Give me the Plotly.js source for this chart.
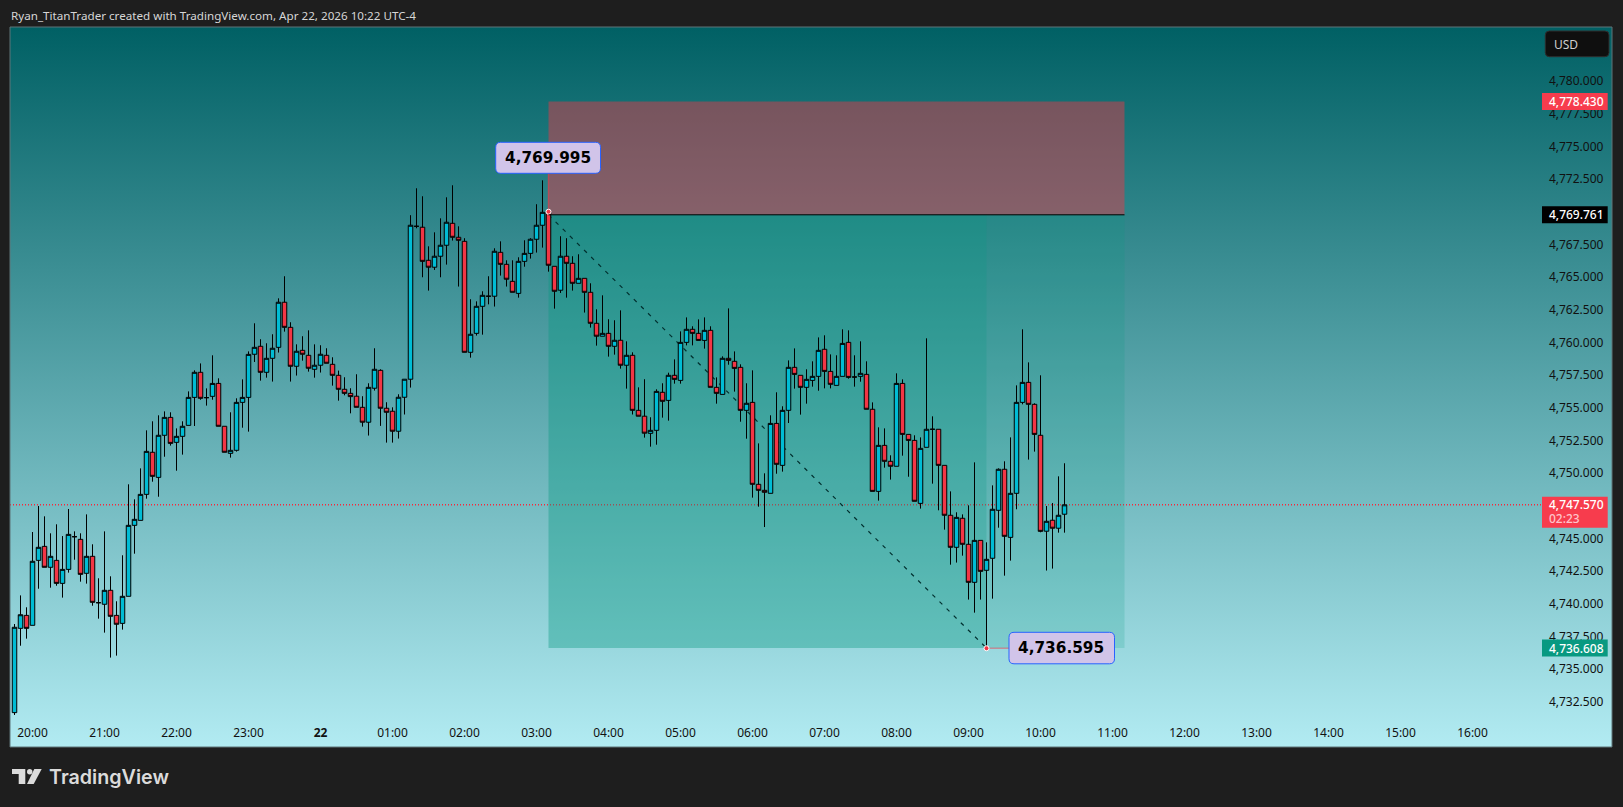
<!DOCTYPE html>
<html>
<head>
<meta charset="utf-8">
<script src="https://cdn.plot.ly/plotly-3.0.1.min.js"></script>
<style>
html,body{margin:0;padding:0;background:#1e1e1e;width:1623px;height:807px;overflow:hidden}
#pane{position:absolute;left:10px;top:27px;width:1602px;height:720px;background:linear-gradient(to bottom,#006064 0%,#b2ebf2 100%)}
#chart{position:absolute;left:0;top:0;width:1623px;height:807px}
</style>
</head>
<body>
<div id="pane"></div>
<div id="chart"></div>
<script>
const opens=[4731.67,4738.12,4739.11,4738.35,4743.32,4744.39,4742.79,4743.32,4741.56,4742.63,
4745.13,4744.93,4742.33,4743.63,4740.08,4739.96,4741.03,4739.11,4738.50,4740.57,
4746.00,4746.38,4748.37,4751.59,4749.67,4752.89,4754.26,4752.35,4752.81,4753.65,
4755.79,4757.71,4755.77,4755.87,4756.86,4753.58,4751.51,4751.74,4755.41,4755.79,
4759.09,4759.70,4757.71,4758.78,4759.62,4763.07,4761.15,4758.17,4759.39,4759.01,
4757.94,4758.25,4759.01,4758.32,4757.48,4756.41,4756.10,4755.88,4755.03,4753.89,
4756.49,4757.86,4754.96,4754.73,4753.20,4755.80,4757.18,4768.88,4768.81,4766.28,
4765.75,4766.59,4767.43,4769.11,4768.04,4767.73,4759.24,4760.69,4762.76,4763.53,
4763.53,4766.89,4765.97,4764.67,4763.75,4766.20,4766.81,4767.89,4768.96,4769.95,
4765.82,4763.99,4766.59,4766.05,4764.52,4764.90,4763.83,4761.46,4760.47,4760.69,
4759.70,4760.16,4758.25,4759.01,4754.80,4754.35,4753.04,4753.27,4756.18,4755.56,
4757.48,4757.09,4760.00,4761.00,4760.69,4760.15,4760.92,4756.56,4756.02,4758.78,
4758.55,4758.09,4754.80,4755.41,4749.14,4748.68,4748.45,4753.80,4750.59,4754.80,
4758.09,4757.48,4756.56,4757.09,4757.40,4759.47,4757.78,4756.71,4757.40,4760.00,
4757.35,4757.40,4757.55,4754.88,4748.60,4752.12,4750.90,4750.52,4756.86,4752.96,
4752.50,4747.68,4751.97,4753.35,4753.35,4750.59,4746.77,4744.32,4746.54,4744.55,
4741.64,4744.85,4742.56,4743.48,4747.15,4750.29,4745.08,4748.45,4755.41,4756.94,
4755.26,4752.89,4745.55,4746.39,4745.78,4746.85];
const closes=[4738.20,4739.16,4738.12,4743.25,4744.32,4742.79,4743.63,4741.56,4742.63,4745.31,
4745.13,4742.25,4743.63,4740.11,4740.08,4741.03,4739.04,4738.43,4740.57,4746.00,
4746.46,4748.37,4751.66,4749.75,4752.89,4754.26,4752.27,4752.81,4753.58,4755.79,
4757.71,4755.72,4755.77,4756.86,4753.58,4751.59,4751.74,4755.41,4755.79,4759.08,
4759.62,4757.71,4758.78,4759.55,4763.07,4761.15,4758.17,4759.32,4759.09,4758.02,
4758.25,4759.09,4758.40,4757.48,4756.41,4756.10,4755.85,4755.03,4753.89,4756.56,
4757.94,4754.96,4754.65,4753.20,4755.80,4757.18,4768.96,4768.88,4766.20,4765.75,
4766.59,4767.43,4769.19,4768.04,4767.81,4759.24,4760.62,4762.76,4763.60,4763.53,
4766.97,4765.97,4764.83,4763.83,4766.20,4766.81,4767.89,4768.96,4769.95,4765.90,
4763.91,4766.59,4766.05,4764.52,4764.90,4763.83,4761.46,4760.47,4760.69,4759.70,
4760.16,4758.25,4759.01,4754.80,4754.35,4753.05,4753.27,4756.25,4755.49,4757.48,
4757.17,4760.00,4761.00,4760.69,4760.15,4760.92,4756.56,4756.10,4758.78,4758.62,
4758.01,4754.80,4755.34,4749.14,4748.68,4748.53,4753.80,4750.67,4754.80,4758.09,
4757.55,4756.56,4757.17,4757.40,4759.39,4757.78,4756.79,4757.40,4759.92,4757.32,
4757.35,4757.63,4754.88,4748.60,4752.12,4750.90,4750.52,4756.86,4752.96,4752.50,
4747.84,4751.89,4753.35,4753.35,4750.59,4746.77,4744.32,4746.61,4744.55,4741.64,
4744.85,4742.48,4743.40,4747.23,4750.29,4745.16,4748.45,4755.41,4756.94,4755.26,
4752.96,4745.54,4746.31,4745.78,4746.77,4747.57];
const highs=[4738.45,4740.64,4739.73,4745.49,4747.48,4746.69,4745.39,4746.08,4745.18,4747.25,
4745.54,4745.39,4746.84,4744.55,4741.95,4745.54,4742.10,4740.19,4743.71,4749.14,
4747.99,4750.36,4753.27,4753.96,4754.42,4754.72,4754.65,4753.42,4753.96,4756.25,
4757.86,4758.39,4756.48,4759.01,4757.25,4753.58,4754.65,4755.72,4757.17,4759.31,
4761.46,4760.24,4759.93,4760.62,4763.37,4765.06,4761.54,4759.85,4760.47,4760.92,
4759.85,4759.78,4759.55,4758.86,4757.84,4757.33,4756.49,4757.56,4755.88,4756.87,
4759.55,4757.94,4755.42,4755.03,4756.03,4757.18,4769.73,4771.79,4771.18,4767.35,
4768.42,4769.49,4771.10,4772.02,4768.88,4767.97,4763.30,4763.14,4763.91,4765.06,
4767.20,4767.73,4766.28,4766.28,4766.51,4767.81,4767.97,4770.57,4772.40,4769.995,
4765.82,4768.12,4767.97,4766.59,4766.74,4764.90,4764.52,4762.53,4763.60,4761.77,
4761.69,4762.45,4760.08,4759.24,4756.56,4757.18,4754.27,4756.41,4756.87,4757.68,
4758.70,4760.84,4761.91,4761.23,4761.76,4761.91,4761.23,4757.32,4758.93,4762.60,
4759.31,4758.32,4756.87,4757.86,4752.27,4749.98,4754.42,4756.18,4755.11,4758.62,
4759.54,4757.48,4757.94,4758.55,4760.38,4760.54,4759.08,4759.01,4761.00,4760.92,
4759.01,4760.08,4758.55,4755.41,4753.50,4753.42,4751.36,4757.63,4757.17,4752.96,
4752.89,4752.73,4760.31,4754.34,4753.35,4750.59,4748.60,4747.00,4746.84,4747.53,
4750.82,4744.85,4744.70,4749.06,4750.36,4750.90,4752.73,4756.71,4761.00,4758.47,
4755.34,4757.48,4747.48,4747.71,4749.75,4750.75];
const lows=[4731.49,4736.79,4737.33,4738.35,4741.15,4742.79,4741.23,4741.38,4740.47,4742.38,
4743.37,4741.69,4741.54,4739.85,4738.86,4737.79,4735.88,4736.03,4738.02,4740.57,
4743.83,4746.38,4748.04,4749.34,4748.19,4751.25,4752.10,4750.18,4751.41,4753.65,
4753.60,4755.61,4755.16,4755.61,4753.58,4751.59,4751.18,4751.64,4753.47,4753.17,
4758.50,4757.07,4757.30,4757.00,4759.22,4760.82,4757.00,4757.46,4758.60,4757.76,
4757.30,4757.69,4758.40,4756.69,4755.54,4755.95,4754.57,4755.03,4753.55,4752.87,
4756.31,4753.61,4752.33,4752.33,4752.64,4754.48,4756.54,4768.73,4764.98,4763.96,
4765.54,4764.98,4765.95,4767.79,4764.27,4759.24,4758.83,4760.52,4760.59,4762.91,
4762.74,4765.11,4764.27,4763.83,4763.42,4765.79,4766.41,4766.87,4767.25,4765.41,
4762.58,4763.78,4763.42,4763.96,4764.52,4762.28,4761.13,4759.75,4760.47,4758.91,
4759.06,4757.99,4756.46,4754.48,4754.35,4752.71,4752.02,4752.17,4754.24,4754.01,
4756.84,4756.84,4759.77,4759.77,4760.15,4759.52,4756.56,4755.31,4756.02,4758.29,
4756.23,4753.93,4752.63,4748.12,4747.43,4745.87,4748.45,4749.95,4750.11,4753.83,
4756.46,4754.47,4755.31,4756.61,4756.30,4756.48,4756.48,4756.71,4757.40,4757.22,
4756.61,4756.99,4754.88,4748.60,4747.89,4750.41,4749.50,4750.52,4751.33,4749.72,
4747.84,4747.28,4751.97,4749.19,4747.15,4745.67,4742.99,4743.15,4743.68,4740.32,
4739.32,4740.32,4736.595,4740.39,4745.82,4742.15,4743.30,4747.23,4755.26,4751.03,
4751.64,4745.47,4742.54,4742.69,4745.44,4745.44];
const barIndex=opens.map((_,i)=>i);
const timeTicks=[3,15,27,39,51,63,75,87,99,111,123,135,147,159,171,183,195,207,219,231,243];
const timeLabels=['20:00','21:00','22:00','23:00','<b>22</b>','01:00','02:00','03:00','04:00','05:00','06:00','07:00','08:00','09:00','10:00','11:00','12:00','13:00','14:00','15:00','16:00'];
const priceTicks=[4732.5,4735,4737.5,4740,4742.5,4745,4750,4752.5,4755,4757.5,4760,4762.5,4765,4767.5,4770,4772.5,4775,4777.5,4780];
const stopPrice=4778.43, entryPrice=4769.761, targetPrice=4736.608, lastPrice=4747.57;
const hiLabel=4769.995, loLabel=4736.595;
const entryBar=89, exitBar=162, endBar=185;

const L=10,T=27,W=1602,H=720;
const fx=p=>(p-L)/W, fy=p=>1-(p-T)/H;
const UI='"Noto Sans"';

function rounded(x0,y0,x1,y1,r){
  const X=fx, Y=fy;
  return `M ${X(x0+r)} ${Y(y0)} L ${X(x1-r)} ${Y(y0)} Q ${X(x1)} ${Y(y0)} ${X(x1)} ${Y(y0+r)} L ${X(x1)} ${Y(y1-r)} Q ${X(x1)} ${Y(y1)} ${X(x1-r)} ${Y(y1)} L ${X(x0+r)} ${Y(y1)} Q ${X(x0)} ${Y(y1)} ${X(x0)} ${Y(y1-r)} L ${X(x0)} ${Y(y0+r)} Q ${X(x0)} ${Y(y0)} ${X(x0+r)} ${Y(y0)} Z`;
}
function poly(pts){return 'M '+pts.map(p=>fx(p[0])+' '+fy(p[1])).join(' L ')+' Z';}
function tag(price,color,y0,y1){
  return {type:'rect',layer:'above',xref:'paper',yref:'y',ysizemode:'pixel',yanchor:price,x0:fx(1542),x1:fx(1607.7),y0:y0,y1:y1,fillcolor:color,line:{width:0}};
}
function tagText(price,text,color,shift){
  return {xref:'paper',yref:'y',x:fx(1547),y:price,xanchor:'left',yanchor:'middle',showarrow:false,yshift:shift||0,text:text,font:{family:UI,size:12,color:color,weight:500}};
}
const fmt=v=>v.toLocaleString('en-US',{minimumFractionDigits:3});
const shapes=[
 {type:'rect',layer:'below',xref:'x',yref:'y',x0:entryBar,x1:endBar,y0:entryPrice,y1:stopPrice,fillcolor:'rgba(242,54,69,0.45)',line:{width:0}},
 {type:'rect',layer:'below',xref:'x',yref:'y',x0:entryBar,x1:exitBar,y0:targetPrice,y1:entryPrice,fillcolor:'rgba(8,153,129,0.38)',line:{width:0}},
 {type:'rect',layer:'below',xref:'x',yref:'y',x0:exitBar,x1:endBar,y0:targetPrice,y1:entryPrice,fillcolor:'rgba(8,153,129,0.18)',line:{width:0}},
 {type:'line',layer:'above',xref:'x',yref:'y',x0:entryBar,x1:endBar,y0:entryPrice,y1:entryPrice,line:{color:'#000',width:1}},
 {type:'line',layer:'below',xref:'x',yref:'y',x0:entryBar,x1:exitBar,y0:entryPrice,y1:targetPrice,line:{color:'#00302f',width:1.2,dash:'4px,6px'}},
 {type:'line',layer:'below',xref:'paper',yref:'y',x0:0,x1:fx(1542),y0:lastPrice,y1:lastPrice,line:{color:'#f5283c',width:1.5,dash:'1px,2px'}},
 {type:'line',layer:'below',xref:'x',yref:'y',x0:entryBar,x1:entryBar,y0:hiLabel,y1:4773,line:{color:'rgba(242,54,69,0.6)',width:1.5}},
 {type:'line',layer:'below',xref:'x',yref:'y',x0:exitBar,x1:exitBar+4,y0:loLabel,y1:loLabel,line:{color:'rgba(242,54,69,0.45)',width:1.5}},
 {type:'path',layer:'above',xref:'paper',yref:'paper',path:rounded(495.7,142.3,600.5,173.3,5),fillcolor:'#d1c4e9',line:{color:'#2962ff',width:1}},
 {type:'path',layer:'above',xref:'paper',yref:'paper',path:rounded(1009,632.3,1114.5,663.8,5),fillcolor:'#d1c4e9',line:{color:'#2962ff',width:1}},
 tag(stopPrice,'#f73c4d',-8.5,8.5),
 tag(entryPrice,'#000000',-8.5,8.5),
 tag(targetPrice,'#089981',-8.5,8.5),
 {type:'rect',layer:'above',xref:'paper',yref:'y',ysizemode:'pixel',yanchor:lastPrice,x0:fx(1542),x1:fx(1607.7),y0:-23,y1:8,fillcolor:'#f73c4d',line:{width:0}},
 {type:'path',layer:'above',xref:'paper',yref:'paper',path:rounded(1545.3,31,1609,56.7,4),fillcolor:'#0f0f0f',line:{color:'#2e2e2e',width:1}},
 {type:'rect',layer:'above',xref:'paper',yref:'paper',x0:0,x1:1,y0:0,y1:1,line:{color:'#5f7478',width:1},fillcolor:'rgba(0,0,0,0)'},
 {type:'path',xref:'paper',yref:'paper',path:poly([[12,769],[25.3,769],[25.3,784],[18.7,784],[18.7,774],[12,774]]),fillcolor:'#dbdbdb',line:{width:0}},
 {type:'circle',xref:'paper',yref:'paper',x0:fx(27),x1:fx(32.4),y0:fy(769),y1:fy(774.4),fillcolor:'#dbdbdb',line:{width:0}},
 {type:'path',xref:'paper',yref:'paper',path:poly([[34.3,769],[41.7,769],[33.7,784],[27,784]]),fillcolor:'#dbdbdb',line:{width:0}}
];
const annotations=[
 {xref:'paper',yref:'paper',x:fx(8.5),y:fy(15),xanchor:'left',yanchor:'middle',showarrow:false,text:'Ryan_TitanTrader created with TradingView.com, Apr 22, 2026 10:22 UTC-4',font:{family:UI,size:11.65,color:'#d6d6d6'}},
 {xref:'paper',yref:'paper',x:fx(47),y:fy(777),xanchor:'left',yanchor:'middle',showarrow:false,text:'TradingView',font:{family:'Inter',size:19.7,color:'#dbdbdb',weight:600}},
 {xref:'paper',yref:'paper',x:fx(1552),y:fy(44.5),xanchor:'left',yanchor:'middle',showarrow:false,text:'USD',font:{family:UI,size:12,color:'#d0d0d0'}},
 {xref:'paper',yref:'paper',x:fx(548),y:fy(157.8),xanchor:'center',yanchor:'middle',showarrow:false,text:fmt(hiLabel),font:{family:'"DejaVu Sans"',size:15.3,color:'#000',weight:700}},
 {xref:'paper',yref:'paper',x:fx(1061),y:fy(648),xanchor:'center',yanchor:'middle',showarrow:false,text:fmt(loLabel),font:{family:'"DejaVu Sans"',size:15.3,color:'#000',weight:700}},
 tagText(stopPrice,fmt(stopPrice),'#fff'),
 tagText(entryPrice,fmt(entryPrice),'#fff'),
 tagText(targetPrice,fmt(targetPrice),'#fff'),
 tagText(lastPrice,fmt(lastPrice),'#fff'),
 tagText(lastPrice,'02:23','#ffc4ca',-14)
];
const candles={type:'candlestick',x:barIndex,open:opens,high:highs,low:lows,close:closes,
  increasing:{line:{color:'#000',width:1},fillcolor:'#00bcd4'},
  decreasing:{line:{color:'#000',width:1},fillcolor:'#f23645'},
  whiskerwidth:0,hoverinfo:'skip',showlegend:false};
const pointers={type:'scatter',mode:'markers',x:[entryBar,exitBar],y:[hiLabel,loLabel],
  marker:{color:'#f23645',size:5,line:{color:'#fff',width:1}},hoverinfo:'skip',showlegend:false};
const layout={
  width:1623,height:807,
  margin:{l:L,r:1623-L-W,t:T,b:807-T-H,pad:0},
  paper_bgcolor:'rgba(0,0,0,0)',plot_bgcolor:'rgba(0,0,0,0)',
  showlegend:false,boxgap:0.25,boxgroupgap:0,dragmode:false,
  xaxis:{type:'linear',range:[-0.75,266.25],tickmode:'array',tickvals:timeTicks,ticktext:timeLabels,
    rangeslider:{visible:false},showgrid:false,zeroline:false,showline:false,
    ticks:'inside',ticklen:7,tickcolor:'rgba(0,0,0,0)',ticklabelposition:'inside',
    tickfont:{family:UI,size:12,color:'#111'}},
  yaxis:{type:'linear',side:'right',range:[4729.04,4784.13],tickmode:'array',tickvals:priceTicks,tickformat:',.3f',
    showgrid:false,zeroline:false,showline:false,
    ticks:'inside',ticklen:8,tickcolor:'rgba(0,0,0,0)',ticklabelposition:'inside',
    tickfont:{family:UI,size:12,color:'#111'}},
  shapes:shapes,annotations:annotations
};
Plotly.newPlot('chart',[candles,pointers],layout,{displayModeBar:false,staticPlot:true});
</script>
</body>
</html>
